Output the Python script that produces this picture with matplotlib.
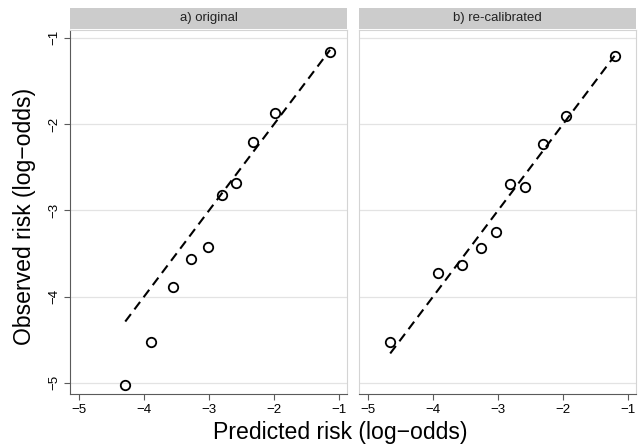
import matplotlib.pyplot as plt
import numpy as np

plt.rcParams["font.family"] = ["Liberation Sans", "DejaVu Sans"]
plt.rcParams["axes.unicode_minus"] = True

# a) original
pred_a = [-4.29, -3.90, -3.56, -3.28, -3.02, -2.80, -2.58, -2.32, -1.98, -1.14]
obs_a = [-5.03, -4.53, -3.89, -3.57, -3.42, -2.82, -2.68, -2.21, -1.87, -1.17]

# b) re-calibrated
pred_b = [-4.66, -3.92, -3.55, -3.27, -3.03, -2.82, -2.58, -2.31, -1.95, -1.21]
obs_b = [-4.53, -3.73, -3.63, -3.44, -3.25, -2.69, -2.73, -2.23, -1.91, -1.21]

titles = ["a) original", "b) re-calibrated"]
ticks = [-5, -4, -3, -2, -1]

fig = plt.figure(figsize=(6.41, 4.47), dpi=100)
W, H = 641, 447
panels = [(70, 347), (359, 636)]
top, bot = 30, 394

dark = "#5a5a5a"
light = "#d4d4d4"

for i, (x0, x1) in enumerate(panels):
    ax = fig.add_axes([x0 / W, 1 - bot / H, (x1 - x0) / W, (bot - top) / H])
    pred = [pred_a, pred_b][i]
    obs = [obs_a, obs_b][i]

    for t in ticks:
        ax.axhline(t, color="#e3e3e3", lw=0.9, zorder=0)

    lo, hi = min(pred), max(pred)
    ax.plot([lo, hi], [lo, hi], color="black", lw=1.5, ls=(0, (4.5, 2.8)), zorder=2)
    ax.plot(pred, obs, "o", mfc="none", mec="black", ms=6.8, mew=1.3, zorder=3)

    ax.set_xlim(-5.14, -0.88)
    ax.set_ylim(-5.13, -0.91)
    ax.set_xticks(ticks)
    ax.set_yticks(ticks)
    ax.tick_params(direction="out", length=4, width=0.8, color=dark, labelsize=9.5, pad=3)
    ax.spines["top"].set_color(light)
    ax.spines["right"].set_color(light)
    ax.spines["bottom"].set_color(dark)
    if i == 0:
        ax.spines["left"].set_color(dark)
        for lab in ax.get_yticklabels():
            lab.set_rotation(90)
            lab.set_va("center")
    else:
        ax.spines["left"].set_color(light)
        ax.tick_params(axis="y", left=False, labelleft=False)

    # strip header
    sax = fig.add_axes([x0 / W, 1 - 29 / H, (x1 - x0) / W, 21 / H])
    sax.set_facecolor("#cccccc")
    sax.set_xticks([])
    sax.set_yticks([])
    for s in sax.spines.values():
        s.set_visible(False)
    sax.text(0.5, 0.5, titles[i], ha="center", va="center", fontsize=9.5, color="#222222",
             transform=sax.transAxes)

fig.text(340 / W, 1 - 432 / H, "Predicted risk (log\u2212odds)", ha="center", va="center", fontsize=16.6)
fig.text(25 / W, 1 - 216 / H, "Observed risk (log\u2212odds)", ha="center", va="center", fontsize=16.6,
         rotation=90)

fig.savefig("out.png", dpi=100)
